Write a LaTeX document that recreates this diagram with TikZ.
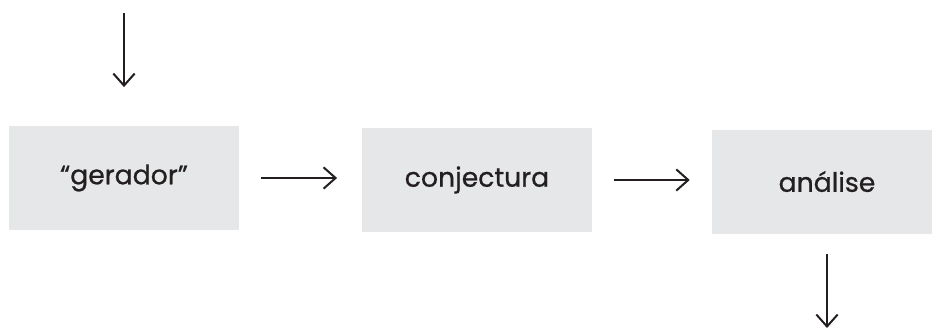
\documentclass[tikz,border=0pt]{standalone}
\usepackage{fontspec}
\setmainfont{Poppins}
\newfontfamily\labelfont{Poppins}[FakeBold=0.7]
\usetikzlibrary{arrows.meta}
\definecolor{boxgray}{HTML}{E6E7E8}
\definecolor{ink}{HTML}{231F20}
\begin{document}
\begin{tikzpicture}[x=0.75pt,y=-0.75pt,
  stagebox/.style={fill=boxgray,draw=none,minimum width=172.5pt,minimum height=78pt,inner sep=0pt,
    font=\labelfont\fontsize{20}{24}\selectfont,text=ink},
  flow/.style={draw=ink,line width=1.5pt,-{Straight Barb[length=9pt,width=16pt,line width=1.5pt]}}]
\useasboundingbox (0,0) rectangle (932,329);
\node[stagebox] (b1) at (124,178) {“gerador”};
\node[stagebox] (b2) at (477,180) {conjectura};
\node[stagebox] (b3) at (827,181.5) {análise};
\coordinate (top) at (124,13);
\coordinate (bot) at (827,328);
\draw[flow,shorten >=29pt] (top) -- (b1.north);
\draw[flow,shorten <=16.5pt,shorten >=18.5pt] (b1.east) -- (b1.east -| b2.west);
\draw[flow,shorten <=16pt,shorten >=16.5pt] (b2.east) -- (b2.east -| b3.west);
\draw[flow,shorten <=15.5pt] (b3.south) -- (bot);
\end{tikzpicture}
\end{document}
